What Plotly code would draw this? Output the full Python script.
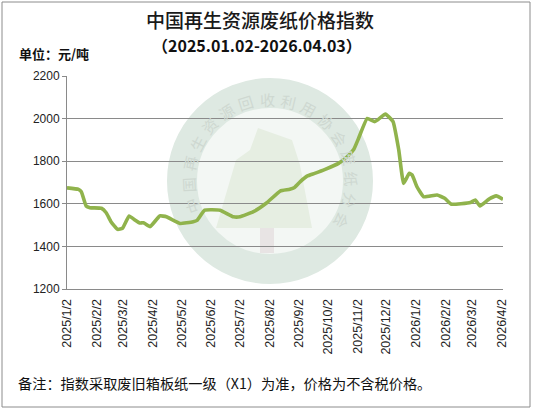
import math
import plotly.graph_objects as go

# ---- data ----
dates = [
    "2025-01-02", "2025-01-14", "2025-01-17", "2025-01-22", "2025-01-26",
    "2025-02-07", "2025-02-12", "2025-02-17", "2025-02-24", "2025-03-01",
    "2025-03-08", "2025-03-14", "2025-03-19", "2025-03-23", "2025-03-30",
    "2025-04-09", "2025-04-16", "2025-04-30", "2025-05-14", "2025-05-18",
    "2025-05-26", "2025-06-11", "2025-06-25", "2025-07-02", "2025-07-16",
    "2025-07-30", "2025-08-13", "2025-08-23", "2025-08-28", "2025-09-03",
    "2025-09-10", "2025-09-18", "2025-09-29", "2025-10-13", "2025-10-22",
    "2025-10-29", "2025-11-03", "2025-11-12", "2025-11-20", "2025-12-01",
    "2025-12-09", "2025-12-15", "2025-12-20", "2025-12-26", "2025-12-29",
    "2026-01-03", "2026-01-10", "2026-01-24", "2026-02-01", "2026-02-08",
    "2026-02-28", "2026-03-05", "2026-03-10", "2026-03-19", "2026-03-27",
    "2026-04-03",
]
index_values = [
    1675, 1668, 1657, 1590, 1582,
    1579, 1558, 1516, 1480, 1485,
    1543, 1524, 1510, 1511, 1493,
    1543, 1539, 1508, 1516, 1522,
    1570, 1570, 1539, 1539, 1563,
    1605, 1660, 1668, 1677, 1704,
    1730, 1743, 1762, 1790, 1821,
    1856, 1908, 2001, 1986, 2021,
    1986, 1852, 1696, 1743, 1735,
    1680, 1633, 1641, 1626, 1598,
    1606, 1618, 1590, 1621, 1637,
    1621,
]
tick_dates = [
    "2025-01-02", "2025-02-02", "2025-03-02", "2025-04-02", "2025-05-02",
    "2025-06-02", "2025-07-02", "2025-08-02", "2025-09-02", "2025-10-02",
    "2025-11-02", "2025-12-02", "2026-01-02", "2026-02-02", "2026-03-02",
    "2026-04-02",
]
tick_labels = [
    "2025/1/2", "2025/2/2", "2025/3/2", "2025/4/2", "2025/5/2",
    "2025/6/2", "2025/7/2", "2025/8/2", "2025/9/2", "2025/10/2",
    "2025/11/2", "2025/12/2", "2026/1/2", "2026/2/2", "2026/3/2",
    "2026/4/2",
]
y_ticks = [1200, 1400, 1600, 1800, 2000, 2200]

title_text = "中国再生资源废纸价格指数"
subtitle_text = "（2025.01.02-2026.04.03）"
unit_text = "单位：元/吨"
note_text = "备注：指数采取废旧箱板纸一级（X1）为准，价格为不含税价格。"
watermark_text = "中国再生资源回收利用协会废纸分会"

CJK = "Noto Sans CJK SC"
LINE_GREEN = "#90b34c"
GRID = "#8a8a8a"

fig = go.Figure()
fig.add_trace(go.Scatter(
    x=dates, y=index_values, mode="lines",
    line=dict(color=LINE_GREEN, width=3.6, shape="spline", smoothing=0.35),
    hoverinfo="x+y", showlegend=False,
))

# plot area: x 67..503, y 76..289 (px)
L, R, T, B = 67, 30, 76, 122
W, H = 533, 411
pw, ph = W - L - R, H - T - B


def px(x):
    return (x - L) / pw


def py(y):
    return (H - B - y) / ph


# watermark logo geometry (px)
cx, cy, r_mid = 270, 181, 88

shapes = [
    dict(type="circle", xref="paper", yref="paper", layer="below",
         x0=px(cx - r_mid), x1=px(cx + r_mid), y0=py(cy + r_mid), y1=py(cy - r_mid),
         fillcolor="rgba(243,247,244,1)", line=dict(color="rgba(222,233,226,1)", width=30)),
    dict(type="path", xref="paper", yref="paper", layer="below",
         path=(f"M {px(258)},{py(128)} L {px(292)},{py(140)} L {px(300)},{py(165)} "
               f"L {px(312)},{py(228)} L {px(216)},{py(228)} L {px(236)},{py(160)} L {px(250)},{py(150)} Z"),
         fillcolor="rgba(230,238,226,1)", line=dict(width=0)),
    dict(type="rect", xref="paper", yref="paper", layer="below",
         x0=px(260), x1=px(274), y0=py(253), y1=py(228),
         fillcolor="rgba(232,228,228,1)", line=dict(width=0)),
    # outer frame
    dict(type="rect", xref="paper", yref="paper", layer="above",
         x0=px(2), x1=px(530), y0=py(407), y1=py(2),
         line=dict(color="#8c8c8c", width=1), fillcolor="rgba(0,0,0,0)"),
]

annotations = [
    dict(text=title_text, x=px(260), y=py(20), xref="paper", yref="paper",
         showarrow=False, xanchor="center", yanchor="middle",
         font=dict(family=CJK, size=19, color="#1a1a1a", weight=500)),
    dict(text="<b>" + subtitle_text + "</b>", x=px(257), y=py(45), xref="paper", yref="paper",
         showarrow=False, xanchor="center", yanchor="middle",
         font=dict(family=CJK, size=16, color="#111")),
    dict(text="<b>" + unit_text + "</b>", x=px(17), y=py(53), xref="paper", yref="paper",
         showarrow=False, xanchor="left", yanchor="middle",
         font=dict(family=CJK, size=13, color="#111")),
    dict(text=note_text, x=px(16), y=py(383), xref="paper", yref="paper",
         showarrow=False, xanchor="left", yanchor="middle",
         font=dict(family=CJK, size=14.2, color="#111")),
]

# faint watermark lettering around the ring
n = len(watermark_text)
a0, a1 = 198.0, -29.0
for i, ch in enumerate(watermark_text):
    ang = a0 + (a1 - a0) * i / (n - 1)
    rad = math.radians(ang)
    xx = cx + r_mid * math.cos(rad) * 0.93
    yy = cy - r_mid * math.sin(rad) * 0.93
    annotations.append(dict(
        text=ch, x=px(xx), y=py(yy), xref="paper", yref="paper",
        showarrow=False, xanchor="center", yanchor="middle", textangle=90 - ang,
        font=dict(family=CJK, size=15, color="rgba(206,216,209,1)"),
    ))

fig.update_layout(
    width=W, height=H,
    margin=dict(l=L, r=R, t=T, b=B),
    paper_bgcolor="white", plot_bgcolor="rgba(0,0,0,0)",
    shapes=shapes, annotations=annotations,
    xaxis=dict(
        type="date", range=["2025-01-02", "2026-04-03"],
        tickmode="array", tickvals=tick_dates, ticktext=tick_labels,
        tickangle=-90, tickfont=dict(family="Liberation Sans", size=12.5, color="#222"),
        ticklabelstandoff=4,
        showgrid=False, showline=True, linecolor=GRID, linewidth=1,
        ticks="", zeroline=False, fixedrange=True,
    ),
    yaxis=dict(
        range=[1200, 2200], tickmode="array", tickvals=y_ticks,
        tickfont=dict(family="Liberation Sans", size=12, color="#222"),
        showgrid=True, gridcolor=GRID, gridwidth=1,
        showline=True, linecolor=GRID, linewidth=1,
        ticks="outside", ticklen=4, tickcolor=GRID,
        zeroline=False, fixedrange=True,
    ),
)

fig.write_html("out.html", config={"displayModeBar": False},
               post_script="document.body.style.margin='0px';")
